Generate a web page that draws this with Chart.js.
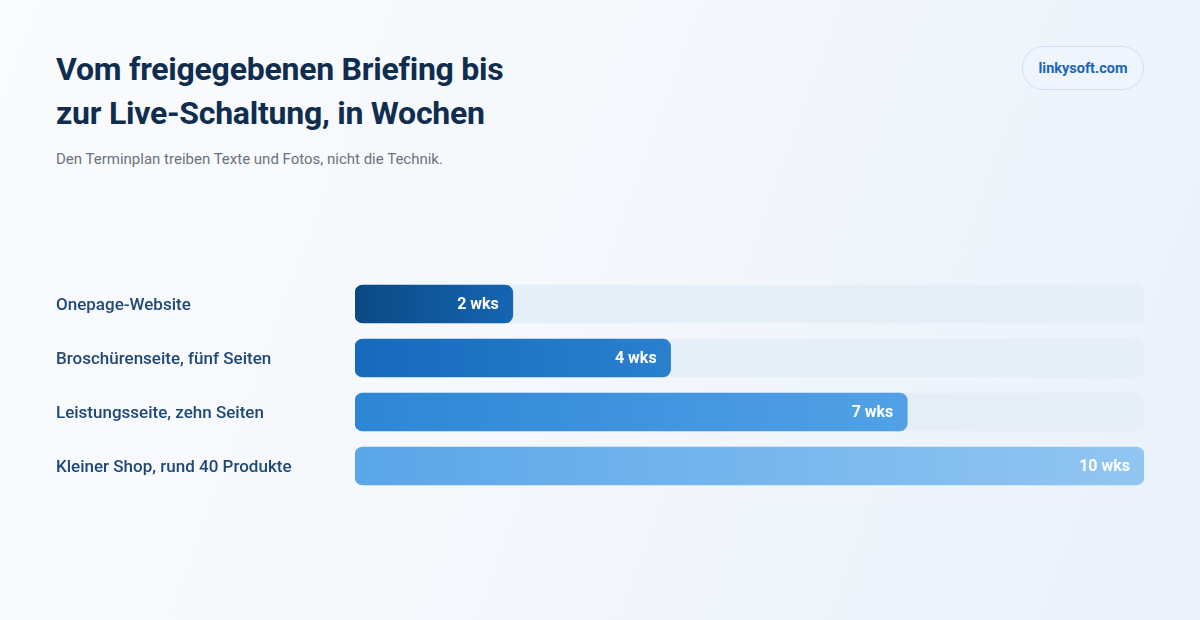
<!DOCTYPE html>
<html lang="de">
<head>
<meta charset="utf-8">
<title>Vom freigegebenen Briefing bis zur Live-Schaltung</title>
<script src="https://cdn.jsdelivr.net/npm/chart.js@4/dist/chart.umd.min.js"></script>
<style>
  html, body { margin: 0; padding: 0; }
  body {
    width: 1200px; height: 620px; overflow: hidden; position: relative;
    font-family: Roboto, "Noto Sans", sans-serif;
    background: linear-gradient(110deg, #fafbfd 0%, #f5f8fc 45%, #e9f1fb 100%);
  }
  h1 {
    position: absolute; left: 56px; top: 47px; margin: 0;
    font-size: 32px; line-height: 44px; font-weight: 700; color: #0f2d4e;
    letter-spacing: -0.25px;
  }
  .sub {
    position: absolute; left: 56px; top: 150px; margin: 0;
    font-size: 15px; color: #6b7280;
  }
  .badge {
    position: absolute; left: 1022px; top: 46px; width: 122px; height: 44px;
    box-sizing: border-box; border: 1px solid #cfe0f3; border-radius: 22px;
    background: #eef5fd; color: #1a65b5; font-weight: 700; font-size: 14.5px;
    display: flex; align-items: center; justify-content: center;
  }
  .wrap { position: absolute; left: 0; top: 0; width: 1200px; height: 620px; }
</style>
</head>
<body>
<h1>Vom freigegebenen Briefing bis<br>zur Live-Schaltung, in Wochen</h1>
<p class="sub">Den Terminplan treiben Texte und Fotos, nicht die Technik.</p>
<div class="badge">linkysoft.com</div>
<div class="wrap"><canvas id="timeline"></canvas></div>

<script>
// Daten
const projects = ['Onepage-Website', 'Broschürenseite, fünf Seiten', 'Leistungsseite, zehn Seiten', 'Kleiner Shop, rund 40 Produkte'];
const weeks = [2, 4, 7, 10];
const maxWeeks = 10;

// Farben (Verlauf links -> rechts pro Balken)
const gradFrom = ['#0b4983', '#1669bb', '#2d86d5', '#5aa6e9'];
const gradTo = ['#1565b4', '#2a80cf', '#52a1e6', '#92c6f2'];

const trackValues = projects.map(() => maxWeeks);

function barGradient(ctx) {
    const chart = ctx.chart;
    const i = ctx.dataIndex;
    if (!chart.chartArea || !chart.scales.x) return gradFrom[i];
    const x = chart.scales.x;
    const x0 = x.getPixelForValue(0);
    const x1 = x.getPixelForValue(weeks[i]);
    const g = chart.ctx.createLinearGradient(x0, 0, x1, 0);
    g.addColorStop(0, gradFrom[i]);
    g.addColorStop(1, gradTo[i]);
    return g;
}

const valueLabels = {
    id: 'valueLabels',
    afterDatasetsDraw(chart) {
        const meta = chart.getDatasetMeta(1);
        const c = chart.ctx;
        c.save();
        c.fillStyle = '#ffffff';
        c.font = '700 16px Roboto, "Noto Sans", sans-serif';
        c.textAlign = 'right';
        c.textBaseline = 'middle';
        meta.data.forEach((bar, i) => {
            c.fillText(weeks[i] + ' wks', bar.x - 14, bar.y + 1);
        });
        c.restore();
    }
};

new Chart(document.getElementById('timeline'), {
    type: 'bar',
    data: {
        labels: projects,
        datasets: [
            {
                data: trackValues,
                backgroundColor: '#e6eef8',
                borderRadius: 8,
                borderSkipped: false,
                barThickness: 38,
                grouped: false,
                order: 2
            },
            {
                data: weeks,
                backgroundColor: barGradient,
                borderRadius: 8,
                borderSkipped: false,
                barThickness: 38,
                grouped: false,
                order: 1
            }
        ]
    },
    options: {
        indexAxis: 'y',
        responsive: true,
        maintainAspectRatio: false,
        animation: false,
        layout: { padding: { top: 277, bottom: 127, left: 56, right: 56 } },
        plugins: {
            legend: { display: false },
            tooltip: { enabled: false }
        },
        scales: {
            x: { display: false, min: 0, max: maxWeeks },
            y: {
                grid: { display: false },
                border: { display: false },
                afterFit(axis) { axis.width = 299; },
                ticks: {
                    crossAlign: 'far',
                    labelOffset: 2,
                    color: '#1d4877',
                    font: { family: 'Roboto, "Noto Sans", sans-serif', size: 17, weight: '500' }
                }
            }
        }
    },
    plugins: [valueLabels]
});
</script>
</body>
</html>
